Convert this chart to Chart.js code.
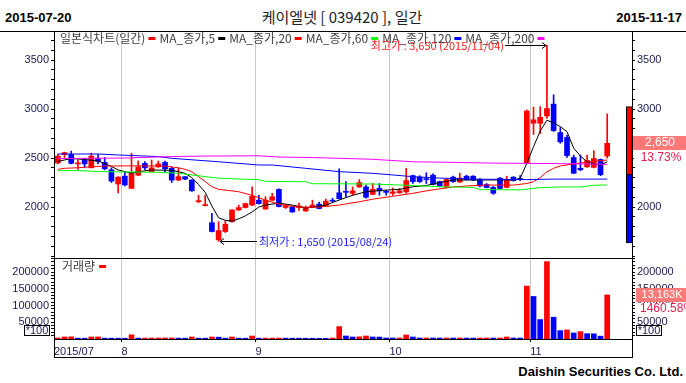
<!DOCTYPE html>
<html>
<head>
<meta charset="utf-8">
<script src="https://cdn.jsdelivr.net/npm/chart.js@4.4.1/dist/chart.umd.min.js"></script>
<style>
  body { margin: 0; width: 686px; height: 383px; background: #fff; position: relative; overflow: hidden; }
  .txt { position: absolute; white-space: nowrap; line-height: 14px; color: #000; }
  canvas { position: absolute; left: 0; }
</style>
</head>
<body>
<div class="txt" id="dataInicio" style="left:5px;top:10px;font:bold 13px 'Liberation Sans',Arial,sans-serif"></div>
<div class="txt" style="left:0;width:684px;text-align:center;top:8px;font:15px 'Noto Sans CJK KR',sans-serif;line-height:18px;color:#222">케이엘넷 [ 039420 ], 일간</div>
<div class="txt" id="dataFim" style="right:4px;top:10px;font:bold 13px 'Liberation Sans',Arial,sans-serif"></div>
<div class="txt" style="right:3px;top:364px;font:bold 13px 'Liberation Sans',Arial,sans-serif">Daishin Securities Co. Ltd.</div>
<canvas id="graficoPreco" width="686" height="227" style="top:31px"></canvas>
<canvas id="graficoVolume" width="686" height="100" style="top:258px"></canvas>
<script>
// dados diarios (2015/07/20 ~ 2015/11/17)
const datas = [
  '2015/07/20','2015/07/21','2015/07/22','2015/07/23','2015/07/24','2015/07/27','2015/07/28','2015/07/29','2015/07/30','2015/07/31',
  '2015/08/03','2015/08/04','2015/08/05','2015/08/06','2015/08/07','2015/08/10','2015/08/11','2015/08/12','2015/08/13','2015/08/17',
  '2015/08/18','2015/08/19','2015/08/20','2015/08/21','2015/08/24','2015/08/25','2015/08/26','2015/08/27','2015/08/28','2015/08/31',
  '2015/09/01','2015/09/02','2015/09/03','2015/09/04','2015/09/07','2015/09/08','2015/09/09','2015/09/10','2015/09/11','2015/09/14',
  '2015/09/15','2015/09/16','2015/09/17','2015/09/18','2015/09/21','2015/09/22','2015/09/23','2015/09/24','2015/09/25','2015/09/30',
  '2015/10/01','2015/10/02','2015/10/05','2015/10/06','2015/10/07','2015/10/08','2015/10/12','2015/10/13','2015/10/14','2015/10/15',
  '2015/10/16','2015/10/19','2015/10/20','2015/10/21','2015/10/22','2015/10/23','2015/10/26','2015/10/27','2015/10/28','2015/10/29',
  '2015/10/30','2015/11/02','2015/11/03','2015/11/04','2015/11/05','2015/11/06','2015/11/09','2015/11/10','2015/11/11','2015/11/12',
  '2015/11/13','2015/11/16','2015/11/17'
];
const abertura = [
  2450, 2535, 2535, 2440, 2480, 2400, 2495, 2455, 2380, 2235,
  2315, 2190, 2325, 2445, 2360, 2410, 2455, 2395, 2275, 2310,
  2275, 2055, 2015, 1840, 1665, 1750, 1850, 1970, 1995, 2020,
  2070, 1980, 2070, 2180, 1995, 2000, 1995, 1960, 1995, 2030,
  2015, 2070, 2145, 2160, 2140, 2205, 2205, 2130, 2190, 2155,
  2140, 2145, 2155, 2320, 2305, 2285, 2325, 2260, 2200, 2305,
  2255, 2315, 2315, 2280, 2230, 2200, 2295, 2200, 2305, 2290,
  2445, 2855, 2855, 2930, 3050, 2760, 2710, 2505, 2395, 2410,
  2405, 2485, 2520
];
const maxima = [
  2540, 2560, 2570, 2480, 2495, 2550, 2535, 2505, 2400, 2310,
  2360, 2550, 2470, 2465, 2480, 2470, 2470, 2410, 2400, 2310,
  2280, 2120, 2120, 1935, 1850, 1860, 1975, 2020, 2040, 2205,
  2120, 2105, 2140, 2185, 2025, 2010, 2040, 2010, 2070, 2050,
  2080, 2090, 2390, 2260, 2205, 2280, 2225, 2240, 2240, 2170,
  2195, 2190, 2395, 2325, 2320, 2350, 2340, 2265, 2290, 2315,
  2345, 2325, 2320, 2290, 2240, 2210, 2300, 2315, 2310, 2320,
  2990, 3020, 3025, 3650, 3145, 2810, 2735, 2530, 2530, 2530,
  2575, 2490, 2950
];
const minima = [
  2440, 2505, 2440, 2385, 2400, 2400, 2440, 2380, 2250, 2145,
  2215, 2190, 2320, 2380, 2360, 2405, 2360, 2250, 2270, 2280,
  2160, 2045, 2010, 1745, 1650, 1740, 1845, 1965, 1990, 2015,
  2030, 1975, 2065, 2000, 1985, 1945, 1965, 1955, 1995, 1980,
  2010, 2050, 2080, 2105, 2120, 2200, 2090, 2125, 2120, 2120,
  2120, 2140, 2140, 2240, 2250, 2240, 2225, 2205, 2195, 2250,
  2250, 2275, 2270, 2205, 2195, 2130, 2185, 2195, 2265, 2270,
  2440, 2740, 2750, 2905, 2770, 2650, 2505, 2340, 2370, 2405,
  2400, 2320, 2500
];
const fechamento = [
  2520, 2555, 2445, 2450, 2440, 2520, 2465, 2390, 2265, 2305,
  2225, 2350, 2410, 2400, 2400, 2440, 2390, 2275, 2310, 2285,
  2165, 2065, 2025, 1750, 1760, 1825, 1970, 1995, 2035, 2110,
  2035, 2070, 2105, 2005, 2015, 1950, 2010, 1995, 2020, 1985,
  2060, 2060, 2085, 2150, 2165, 2250, 2100, 2180, 2165, 2150,
  2155, 2165, 2270, 2260, 2260, 2280, 2230, 2215, 2280, 2260,
  2295, 2280, 2275, 2215, 2200, 2140, 2190, 2280, 2270, 2280,
  2980, 2890, 2915, 3005, 2780, 2665, 2525, 2345, 2380, 2475,
  2495, 2330, 2650
];
// volume em unidades de 100 acoes
const volume = [
  3000, 6000, 6500, 2500, 2400, 6000, 6200, 2600, 2500, 2400,
  2300, 12500, 2600, 2800, 2900, 3000, 3100, 3200, 2600, 2500,
  6000, 2500, 2400, 6000, 5500, 2500, 6000, 2500, 2400, 9000,
  2500, 2600, 2700, 2800, 2600, 2500, 2400, 2300, 2200, 2100,
  2000, 3000, 37000, 9000, 6000, 6500, 9000, 6000, 5800, 3000,
  2900, 3000, 12000, 6000, 3000, 3100, 3000, 2900, 3000, 2900,
  3000, 2900, 2800, 2900, 3000, 2900, 3000, 6000, 3000, 2900,
  158000, 127000, 58000, 231000, 65000, 25000, 27000, 18000, 22000, 16000,
  15500, 8435, 131635
];
// medias moveis: [indice, valor]
const media5 = [[0,2465],[2,2495],[4,2485],[6,2470],[8,2415],[9,2378],[11,2345],[12,2360],[14,2378],[17,2375],[18,2361],[19,2344],[20,2300],[21,2230],[22,2150],[23,2010],[24,1890],[25,1865],[26,1857],[27,1880],[28,1910],[29,1950],[30,2000],[31,2020],[33,2040],[35,2020],[37,1990],[40,2020],[42,2071],[44,2120],[46,2156],[49,2173],[51,2180],[53,2207],[55,2220],[57,2250],[59,2276],[63,2276],[68,2276],[69,2290],[70,2446],[71,2615],[72,2775],[73,2885],[74,2860],[75,2820],[76,2769],[77,2600],[78,2520],[79,2462],[80,2440],[81,2429],[82,2462]];
const media20 = [[0,2384],[1,2395],[3,2401],[5,2410],[7,2418],[10,2420],[13,2420],[16,2418],[18,2400],[19,2385],[20,2360],[21,2310],[22,2260],[23,2207],[24,2180],[26,2165],[27,2156],[29,2120],[31,2070],[33,2030],[35,2008],[37,1997],[39,2000],[42,2020],[45,2054],[47,2080],[50,2110],[53,2140],[55,2165],[57,2185],[59,2205],[61,2215],[64,2224],[68,2224],[70,2240],[71,2258],[72,2300],[73,2360],[74,2395],[75,2420],[78,2450],[80,2465],[82,2480]];
const media60 = [[0,2370],[3,2372],[6,2362],[10,2358],[15,2355],[18,2345],[22,2310],[24,2295],[28,2283],[30,2280],[31,2262],[37,2258],[38,2238],[47,2235],[52,2222],[57,2207],[62,2200],[63,2178],[69,2175],[72,2198],[75,2205],[78,2205],[80,2222],[82,2225]];
const media120 = [[0,2541],[6,2541],[9,2531],[15,2515],[17,2497],[24,2462],[30,2429],[32,2429],[37,2395],[42,2361],[47,2344],[50,2327],[53,2310],[57,2295],[62,2285],[70,2280],[74,2285],[82,2285]];
const media200 = [[0,2495],[10,2500],[17,2515],[22,2520],[30,2523],[33,2510],[38,2505],[47,2487],[53,2462],[57,2458],[65,2448],[75,2443],[82,2435]];
// limites de preco do dia seguinte
const limiteSuperior = 3025;
const limiteInferior = 1635;

const nomesSeries = ['일본식차트(일간)', 'MA_종가,5', 'MA_종가,20', 'MA_종가,60', 'MA_종가,120', 'MA_종가,200'];
const coresSeries = ['#ff0000', '#000000', '#ff0000', '#00ff00', '#0000ff', '#ff00ff'];

const VERMELHO = '#ff0000';
const AZUL = '#0000ff';
const COR_EIXO = '#1a1a50';
const FONTE_EIXO = { family: "'Liberation Sans', Arial, sans-serif", size: 11 };
const X_MIN = -0.57, X_MAX = 85.7;

Chart.defaults.font.family = "'Liberation Sans', Arial, sans-serif";

document.getElementById('dataInicio').innerText = datas[0].replace(/\//g, '-');
document.getElementById('dataFim').innerText = datas[datas.length - 1].replace(/\//g, '-');

function corCandle(i) {
    if (i === undefined) return VERMELHO;
    return fechamento[i] >= abertura[i] ? VERMELHO : AZUL;
}

function corVolume(i) {
    if (i === undefined || i === 0) return VERMELHO;
    return volume[i] >= volume[i - 1] ? VERMELHO : AZUL;
}

// separacao entre meses (meio caminho entre o ultimo dia e o primeiro do mes seguinte)
const iniciosMes = datas.map((d, i) => i).filter(i => i > 0 && datas[i].slice(5, 7) !== datas[i - 1].slice(5, 7));
const limitesMes = iniciosMes.map(i => i - 0.5);
const rotulosMes = [datas[0].slice(0, 7)].concat(iniciosMes.map(i => String(parseInt(datas[i].slice(5, 7), 10))));

const formatar = v => v.toLocaleString('en-US');
const pontos = lista => lista.map(([i, v]) => ({ x: i, y: v }));

function larguraFixa(escala) {
    escala.width = 54;
    escala.paddingTop = 0;
    escala.paddingBottom = 0;
}

function eixoY(posicao, min, max, passo, rotulo) {
    return {
        position: posicao, min: min, max: max,
        afterFit: larguraFixa,
        // marcas fixas em cada passo
        afterBuildTicks: e => {
            const marcas = [];
            for (let v = Math.ceil(min / passo) * passo; v <= max; v += passo) {
                if (v > min) marcas.push({ value: v });
            }
            e.ticks = marcas;
        },
        border: { color: '#000' },
        grid: { drawOnChartArea: false, tickLength: 3, tickColor: '#000' },
        ticks: { autoSkip: false, padding: 2, color: COR_EIXO, font: FONTE_EIXO, callback: rotulo }
    };
}

function seta(ctx, x0, x1, y) {
    // x1 e a ponta da seta
    const d = x1 > x0 ? -4 : 4;
    ctx.strokeStyle = '#000';
    ctx.lineWidth = 1;
    ctx.beginPath();
    ctx.moveTo(x0, y);
    ctx.lineTo(x1, y);
    ctx.moveTo(x1 + d, y - 3);
    ctx.lineTo(x1, y);
    ctx.lineTo(x1 + d, y + 3);
    ctx.stroke();
}

const sobreposicaoPreco = {
    id: 'sobreposicaoPreco',
    afterDraw(chart) {
        const { ctx, scales: { x, y } } = chart;
        ctx.save();
        ctx.fillStyle = '#000';
        ctx.fillRect(0, 0, 686, 1);

        // legenda das series
        ctx.font = "12px 'Noto Sans CJK KR'";
        ctx.textBaseline = 'middle';
        ctx.textAlign = 'left';
        let lx = 60;
        nomesSeries.forEach((nome, k) => {
            ctx.fillStyle = '#404040';
            ctx.fillText(nome, lx, 7);
            lx += ctx.measureText(nome).width + 3;
            ctx.fillStyle = coresSeries[k];
            ctx.fillRect(lx, 6, 7, 3);
            lx += 11;
        });

        // maxima e minima do periodo
        const iMax = maxima.indexOf(Math.max(...maxima));
        const iMin = minima.indexOf(Math.min(...minima));
        ctx.font = "11px 'Noto Sans CJK KR'";

        let px = Math.round(x.getPixelForValue(iMax));
        let py = Math.round(y.getPixelForValue(maxima[iMax])) + 0.5;
        seta(ctx, px - 42, px - 1, py);
        ctx.fillStyle = '#ff2020';
        ctx.textAlign = 'right';
        ctx.fillText('최고가 : ' + formatar(maxima[iMax]) + ' (' + datas[iMax] + ')', px - 43, py);

        px = Math.round(x.getPixelForValue(iMin));
        py = Math.round(y.getPixelForValue(minima[iMin])) + 0.5;
        seta(ctx, px + 38, px + 1, py);
        ctx.fillStyle = '#2020ff';
        ctx.textAlign = 'left';
        ctx.fillText('최저가 : ' + formatar(minima[iMin]) + ' (' + datas[iMin] + ')', px + 40, py);

        // preco atual e variacao
        const n = fechamento.length - 1;
        const cy = Math.round(y.getPixelForValue(fechamento[n]));
        ctx.fillStyle = '#ff7878';
        ctx.fillRect(633, cy - 7, 53, 14);
        ctx.font = "12px 'Liberation Sans'";
        ctx.textAlign = 'center';
        ctx.fillStyle = '#fff';
        ctx.fillText(formatar(fechamento[n]), 660, cy);
        const variacao = ((fechamento[n] / fechamento[n - 1] - 1) * 100).toFixed(2) + '%';
        ctx.fillRect(634, cy + 8, 52, 13);
        ctx.fillStyle = '#e8194b';
        ctx.fillText(variacao, 661, cy + 15);
        ctx.restore();
    }
};

const sobreposicaoVolume = {
    id: 'sobreposicaoVolume',
    afterDraw(chart) {
        const { ctx, scales: { y } } = chart;
        ctx.save();
        ctx.fillStyle = '#000';
        ctx.fillRect(54, 0, 579, 1);
        ctx.fillRect(54, 81, 1, 19);
        ctx.fillRect(632, 81, 1, 19);
        ctx.fillRect(54, 99, 579, 1);

        ctx.font = "12px 'Noto Sans CJK KR'";
        ctx.textBaseline = 'middle';
        ctx.textAlign = 'left';
        ctx.fillStyle = '#404040';
        ctx.fillText('거래량', 62, 8);
        const w = ctx.measureText('거래량').width;
        ctx.fillStyle = VERMELHO;
        ctx.fillRect(62 + w + 4, 7, 7, 3);

        // caixas de unidade
        ctx.font = "11px 'Liberation Sans'";
        ctx.textAlign = 'center';
        [24, 636].forEach(bx => {
            ctx.fillStyle = '#fff';
            ctx.fillRect(bx, 67, 26, 11);
            ctx.strokeStyle = '#000';
            ctx.strokeRect(bx + 0.5, 67.5, 25, 10);
            ctx.fillStyle = COR_EIXO;
            ctx.fillText('*100', bx + 13, 73);
        });

        // volume atual e variacao
        const n = volume.length - 1;
        const cy = Math.round(y.getPixelForValue(volume[n]));
        ctx.fillStyle = '#ff7878';
        ctx.fillRect(636, cy - 7, 50, 14);
        ctx.font = "11px 'Liberation Sans'";
        ctx.fillStyle = '#fff';
        ctx.fillText(formatar(Math.floor(volume[n] * 100 / 1000)) + 'K', 662, cy);
        const variacao = ((volume[n] / volume[n - 1] - 1) * 100).toFixed(2) + '%';
        ctx.fillRect(636, cy + 8, 50, 12);
        ctx.fillStyle = '#e8194b';
        ctx.textAlign = 'left';
        ctx.font = "12px 'Liberation Sans'";
        ctx.fillText(variacao, 640, cy + 14);
        ctx.restore();
    }
};

const opcoesBase = {
    responsive: false,
    animation: false,
    devicePixelRatio: 1,
    events: [],
    layout: { padding: 0, autoPadding: false },
    plugins: { legend: { display: false }, tooltip: { enabled: false } }
};

function desenharGraficoPreco() {
    const linha = (dados, cor) => ({
        type: 'line', data: pontos(dados), borderColor: cor, borderWidth: 1,
        pointRadius: 0, tension: 0, order: 1
    });
    new Chart(document.getElementById('graficoPreco'), {
        type: 'bar',
        data: {
            datasets: [
                {
                    data: datas.map((d, i) => ({ x: i, y: [minima[i], maxima[i]] })),
                    backgroundColor: c => corCandle(c.dataIndex),
                    barThickness: 1, grouped: false, order: 3
                },
                {
                    data: datas.map((d, i) => ({ x: i, y: [abertura[i], fechamento[i]] })),
                    backgroundColor: c => corCandle(c.dataIndex),
                    barThickness: 5, minBarLength: 1, grouped: false, order: 2
                },
                {
                    data: [{ x: 85.3, y: [fechamento[fechamento.length - 2], limiteSuperior] }],
                    backgroundColor: VERMELHO, borderColor: '#000', borderWidth: 1, borderSkipped: false,
                    barThickness: 6, grouped: false, order: 2
                },
                {
                    data: [{ x: 85.3, y: [limiteInferior, fechamento[fechamento.length - 2]] }],
                    backgroundColor: AZUL, borderColor: '#000', borderWidth: 1, borderSkipped: false,
                    barThickness: 6, grouped: false, order: 2
                },
                linha(media200, '#ff00ff'),
                linha(media120, '#0000ff'),
                linha(media60, '#00ff00'),
                linha(media20, '#ff0000'),
                linha(media5, '#000000')
            ]
        },
        options: {
            ...opcoesBase,
            scales: {
                x: {
                    type: 'linear', min: X_MIN, max: X_MAX, offset: false,
                    afterBuildTicks: e => { e.ticks = limitesMes.map(v => ({ value: v })); },
                    afterFit: e => { e.height = 0; e.paddingLeft = 0; e.paddingRight = 0; },
                    ticks: { display: false },
                    border: { display: false },
                    grid: { color: '#c8c8c8', drawTicks: false, offset: false }
                },
                y: eixoY('left', 1480, 3796, 100, v => (v % 500 === 0 && v >= 2000) ? v : ''),
                y2: eixoY('right', 1480, 3796, 100, v => (v % 500 === 0 && v >= 2000) ? v : '')
            }
        },
        plugins: [sobreposicaoPreco]
    });
}

function desenharGraficoVolume() {
    new Chart(document.getElementById('graficoVolume'), {
        type: 'bar',
        data: {
            datasets: [{
                data: volume.map((v, i) => ({ x: i, y: v })),
                backgroundColor: c => corVolume(c.dataIndex),
                barThickness: 5, grouped: false
            }]
        },
        options: {
            ...opcoesBase,
            scales: {
                x: {
                    type: 'linear', min: X_MIN, max: X_MAX, offset: false, position: 'bottom',
                    afterBuildTicks: e => { e.ticks = [X_MIN].concat(limitesMes).map(v => ({ value: v })); },
                    afterFit: e => { e.height = 19; e.paddingLeft = 0; e.paddingRight = 0; },
                    border: { color: '#000' },
                    grid: {
                        color: c => c.index === 0 ? 'rgba(0,0,0,0)' : '#c8c8c8',
                        tickColor: '#000', tickLength: 3, offset: false
                    },
                    ticks: {
                        align: 'start', autoSkip: false, maxRotation: 0, padding: 3,
                        color: COR_EIXO, font: FONTE_EIXO,
                        callback: (v, i) => rotulosMes[i]
                    }
                },
                y: eixoY('left', 0, 241800, 10000, v => (v % 50000 === 0) ? v : ''),
                y2: eixoY('right', 0, 241800, 10000, v => (v % 50000 === 0) ? v : '')
            }
        },
        plugins: [sobreposicaoVolume]
    });
}

desenharGraficoPreco();
desenharGraficoVolume();
</script>
</body>
</html>
